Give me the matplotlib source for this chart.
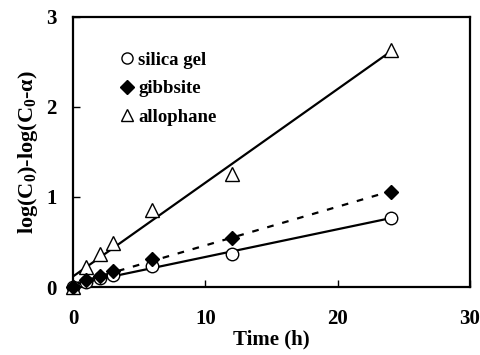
import numpy as np
import matplotlib
matplotlib.use("Agg")
import matplotlib.pyplot as plt
from matplotlib.lines import Line2D

plt.rcParams['font.family'] = ['Liberation Serif', 'DejaVu Serif']
plt.rcParams['font.weight'] = 'bold'
plt.rcParams['mathtext.fontset'] = 'custom'
plt.rcParams['mathtext.rm'] = 'Liberation Serif:bold'
plt.rcParams['mathtext.default'] = 'rm'

# data
t = [0, 1, 2, 3, 6, 12, 24]
silica = [0, 0.06, 0.10, 0.13, 0.23, 0.37, 0.77]
gibbsite = [0, 0.08, 0.12, 0.18, 0.31, 0.54, 1.06]
allophane = [0, 0.22, 0.37, 0.49, 0.85, 1.26, 2.63]

fig = plt.figure(figsize=(4.81, 3.55), dpi=100)
ax = fig.add_axes([0.152, 0.1915, 0.825, 0.761])

tt = np.array(t)
fit_t = np.array([0, 24])
for ys, ls in [(silica, '-'), (gibbsite, (0, (3, 4))), (allophane, '-')]:
    k, b = np.polyfit(tt, ys, 1)
    ax.plot(fit_t, k * fit_t + b, color='black', lw=1.6, ls=ls, zorder=2)

ax.plot(t, silica, 'o', ms=9, mfc='white', mec='black', mew=1, zorder=3, clip_on=False)
ax.plot(t, gibbsite, 'D', ms=7, mfc='black', mec='black', zorder=4, clip_on=False)
ax.plot(t, allophane, '^', ms=10, mfc='white', mec='black', mew=1, zorder=3, clip_on=False)

handles = [
    Line2D([], [], marker='o', ls='none', ms=8, mfc='white', mec='black'),
    Line2D([], [], marker='D', ls='none', ms=7, mfc='black', mec='black'),
    Line2D([], [], marker='^', ls='none', ms=9, mfc='white', mec='black'),
]
ax.legend(handles, ['silica gel', 'gibbsite', 'allophane'], loc='upper left',
          bbox_to_anchor=(0.1, 0.9), frameon=False, fontsize=13.5,
          handlelength=0.7, handletextpad=0.25, labelspacing=0.62, borderaxespad=0)

ax.set_xlim(0, 30)
ax.set_ylim(0, 3)
ax.set_xticks([0, 10, 20, 30])
ax.set_yticks([0, 1, 2, 3])
ax.tick_params(direction='in', length=5, width=1, labelsize=15, top=False, right=False)
ax.tick_params(axis='x', pad=16)
ax.tick_params(axis='y', pad=12)
for s in ax.spines.values():
    s.set_linewidth(1.6)

ax.set_xlabel('Time (h)', fontsize=15, fontweight='bold', labelpad=0)
ax.set_ylabel(r'log(C$_0$)-log(C$_0$-$\alpha$)', fontsize=16, fontweight='bold', labelpad=4)

fig.savefig('out.png', dpi=100)
